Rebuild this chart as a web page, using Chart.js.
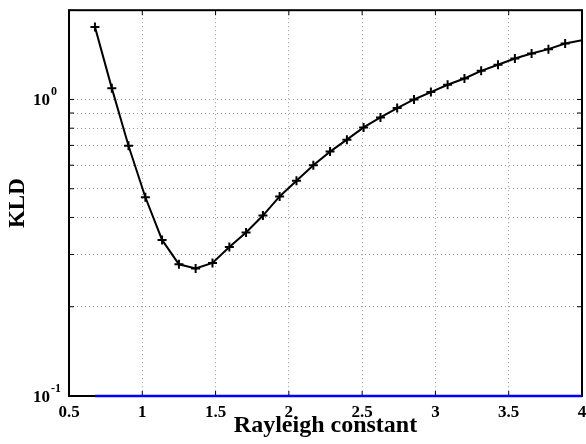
<!DOCTYPE html>
<html lang="en">
<head>
<meta charset="UTF-8">
<title>KLD vs Rayleigh constant</title>
<script src="https://cdn.jsdelivr.net/npm/chart.js"></script>
<style>
  html, body { margin: 0; padding: 0; background: #fff; }
  #wrap { width: 586px; height: 444px; }
</style>
</head>
<body>
<div id="wrap"><canvas id="kldChart"></canvas></div>
<script>
// values
const rayleigh = [0.677, 0.792, 0.906, 1.021, 1.135, 1.250, 1.364, 1.479, 1.594, 1.708,
                  1.823, 1.937, 2.052, 2.167, 2.281, 2.396, 2.510, 2.625, 2.739, 2.854,
                  2.969, 3.083, 3.198, 3.312, 3.427, 3.542, 3.656, 3.771, 3.885, 4.000];
const kld = [1.757, 1.092, 0.698, 0.468, 0.336, 0.278, 0.269, 0.281, 0.318, 0.356,
             0.406, 0.471, 0.532, 0.600, 0.667, 0.732, 0.805, 0.870, 0.935, 1.000,
             1.059, 1.121, 1.177, 1.249, 1.309, 1.374, 1.428, 1.478, 1.544, 1.585];
const blueX = [0.677, 4.0];
const blueY = [0.1, 0.1];
const xTickValues = [0.5, 1, 1.5, 2, 2.5, 3, 3.5, 4];
const yGridValues = [0.1, 0.2, 0.3, 0.4, 0.5, 0.6, 0.7, 0.8, 0.9, 1, 2];
const yLabelValues = [0.1, 1];
const yLabelExps = ['-1', '0'];

const serif = "'Liberation Serif', 'Times New Roman', serif";

const frame = {
  id: 'frame',
  beforeDatasetsDraw(chart) {
    const { ctx, chartArea: a, scales: { x, y } } = chart;
    ctx.save();
    ctx.strokeStyle = '#000';
    ctx.lineWidth = 2;
    ctx.strokeRect(a.left, a.top, a.right - a.left, a.bottom - a.top);
    ctx.lineWidth = 1;
    ctx.beginPath();
    x.ticks.forEach(t => {
      const px = x.getPixelForValue(t.value);
      ctx.moveTo(px, a.bottom); ctx.lineTo(px, a.bottom - 5);
      ctx.moveTo(px, a.top); ctx.lineTo(px, a.top + 5);
    });
    y.ticks.forEach(t => {
      const py = y.getPixelForValue(t.value);
      ctx.moveTo(a.left, py); ctx.lineTo(a.left + 5, py);
      ctx.moveTo(a.right, py); ctx.lineTo(a.right - 5, py);
    });
    ctx.stroke();
    ctx.restore();
  },
  afterDraw(chart) {
    const { ctx, scales: { y } } = chart;
    ctx.save();
    ctx.fillStyle = '#000';
    ctx.textBaseline = 'alphabetic';
    yLabelValues.forEach((v, i) => {
      const py = y.getPixelForValue(v);
      ctx.font = 'bold 17px ' + serif;
      ctx.textAlign = 'right';
      ctx.fillText('10', 50, py + 6);
      ctx.font = 'bold 12px ' + serif;
      ctx.textAlign = 'left';
      ctx.fillText(yLabelExps[i], 51, py - 4);
    });
    ctx.restore();
  }
};

new Chart(document.getElementById('kldChart'), {
  type: 'line',
  data: {
    datasets: [
      {
        data: rayleigh.map((r, i) => ({ x: r, y: kld[i] })),
        borderColor: '#000',
        borderWidth: 2,
        pointStyle: 'cross',
        pointRadius: ctx => ctx.dataIndex === rayleigh.length - 1 ? 0 : 4.5,
        pointBorderWidth: 2,
        pointBorderColor: '#000',
        tension: 0,
        fill: false
      },
      {
        data: blueX.map((r, i) => ({ x: r, y: blueY[i] })),
        borderColor: '#0000ff',
        borderWidth: 2.5,
        pointRadius: 0,
        tension: 0,
        fill: false,
        clip: 4
      }
    ]
  },
  options: {
    responsive: true,
    maintainAspectRatio: false,
    animation: false,
    layout: { autoPadding: false, padding: { top: 9, right: 4, left: 0, bottom: 0 } },
    plugins: { legend: { display: false }, tooltip: { enabled: false } },
    scales: {
      x: {
        type: 'linear',
        min: 0.5,
        max: 4,
        afterBuildTicks(s) { s.ticks = xTickValues.map(v => ({ value: v })); },
        ticks: {
          callback: v => String(v),
          autoSkip: false,
          maxRotation: 0,
          padding: 6,
          color: '#000',
          font: { family: serif, size: 17, weight: 'bold' }
        },
        grid: { color: 'rgba(0,0,0,0.4)', lineWidth: 1, drawTicks: false },
        border: { display: false, dash: [1, 3] },
        title: {
          display: true,
          text: 'Rayleigh constant',
          color: '#000',
          font: { family: serif, size: 24, weight: 'bold' },
          padding: { top: 0, bottom: 4 }
        },
        afterFit(s) { s.height = 48; s.paddingLeft = 0; s.paddingRight = 0; }
      },
      y: {
        type: 'logarithmic',
        min: 0.1,
        max: 2,
        afterBuildTicks(s) { s.ticks = yGridValues.map(v => ({ value: v })); },
        ticks: { callback: () => '', autoSkip: false },
        grid: { color: 'rgba(0,0,0,0.4)', lineWidth: 1, drawTicks: false },
        border: { display: false, dash: [1, 3] },
        title: {
          display: true,
          text: 'KLD',
          color: '#000',
          font: { family: serif, size: 23, weight: 'bold' },
          padding: { top: 4, bottom: 0 }
        },
        afterFit(s) { s.width = 69; }
      }
    }
  },
  plugins: [frame]
});
</script>
</body>
</html>
